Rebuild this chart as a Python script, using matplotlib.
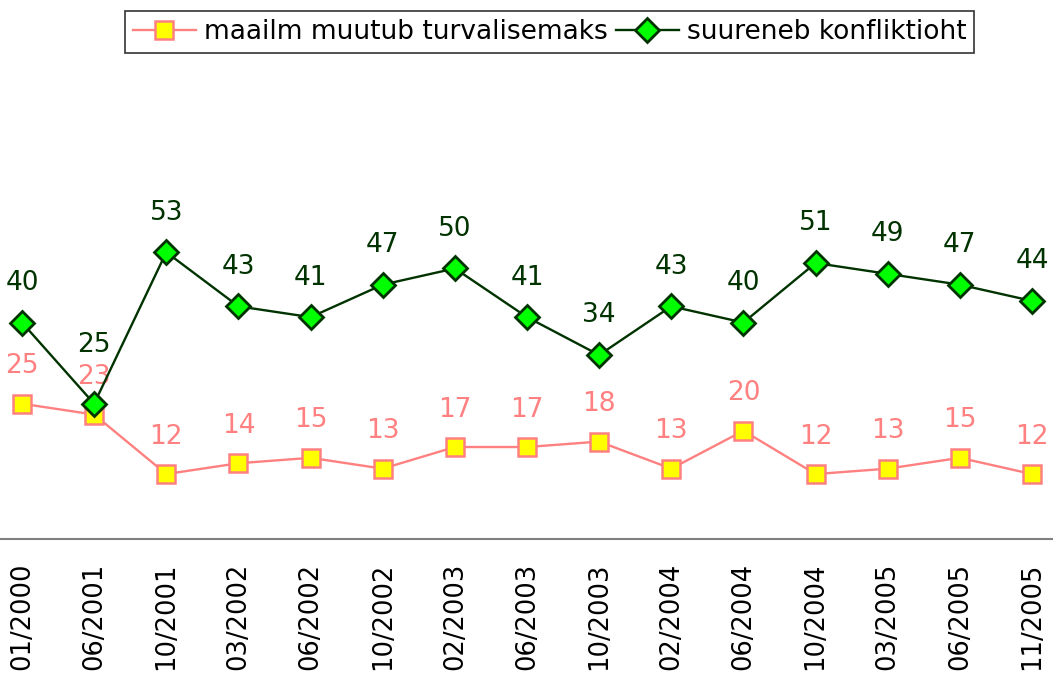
import matplotlib
matplotlib.use('Agg')
import matplotlib.pyplot as plt

# survey dates and shares (%)
dates = ['01/2000', '06/2001', '10/2001', '03/2002', '06/2002', '10/2002', '02/2003',
         '06/2003', '10/2003', '02/2004', '06/2004', '10/2004', '03/2005', '06/2005', '11/2005']
safer = [25, 23, 12, 14, 15, 13, 17, 17, 18, 13, 20, 12, 13, 15, 12]
conflict = [40, 25, 53, 43, 41, 47, 50, 41, 34, 43, 40, 51, 49, 47, 44]

pink = '#FF8080'
dgreen = '#003300'

fig = plt.figure(figsize=(10.53, 6.77), dpi=100)
ax = fig.add_axes([0, 1 - 539 / 677, 1, (539 - 52) / 677])

x = list(range(len(dates)))
ax.plot(x, safer, color=pink, lw=1.7, marker='s', ms=13.5, mfc='#FFFF00', mec=pink, mew=1.8,
        label='maailm muutub turvalisemaks', zorder=3)
ax.plot(x, conflict, color=dgreen, lw=1.7, marker='D', ms=12.5, mfc='#00FF00', mec=dgreen, mew=2,
        label='suureneb konfliktioht', zorder=4)

for i, v in enumerate(safer):
    ax.annotate(str(v), (i, v), xytext=(0, 27), textcoords='offset points',
                ha='center', va='center', fontsize=19, color=pink)
for i, v in enumerate(conflict):
    # second label would sit on top of the pink one, push it up
    dy = 42 if i == 1 else 28.5
    ax.annotate(str(v), (i, v), xytext=(0, dy), textcoords='offset points',
                ha='center', va='center', fontsize=19, color=dgreen)

ax.set_xlim(-22 / 72.14, 14 + 21 / 72.14)
ax.set_ylim(0, 90)
ax.set_xticks(x)
ax.set_xticklabels(dates, rotation=90, fontsize=18.5)
ax.tick_params(axis='x', length=0, pad=17)
ax.set_yticks([])
for s in ['top', 'left', 'right']:
    ax.spines[s].set_visible(False)
ax.spines['bottom'].set_color('#808080')
ax.spines['bottom'].set_linewidth(1.5)
ax.patch.set_visible(False)

leg = fig.legend(loc='center', bbox_to_anchor=(549.5 / 1053, 1 - 32 / 677), ncol=2,
                 fontsize=19, frameon=True, fancybox=False, edgecolor='black',
                 handlelength=2.4, handletextpad=0.3, columnspacing=0.3,
                 borderpad=0.3, borderaxespad=0)
leg.get_frame().set_linewidth(1.2)

fig.savefig('out.png', dpi=100)
